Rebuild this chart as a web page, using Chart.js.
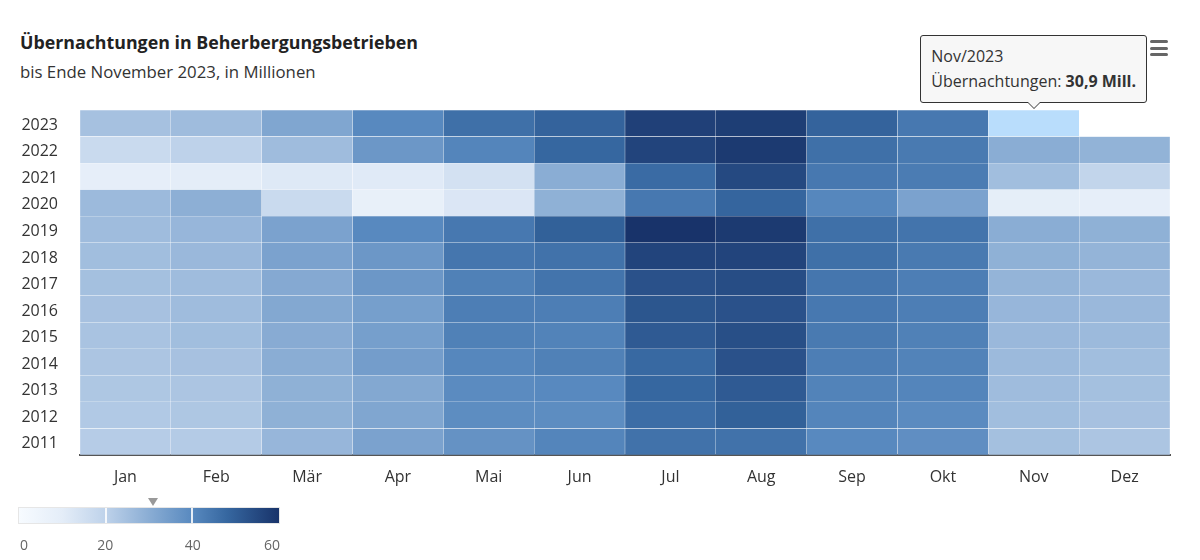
<!DOCTYPE html>
<html lang="de">
<head>
<meta charset="utf-8">
<title>Übernachtungen in Beherbergungsbetrieben</title>
<script src="https://cdn.jsdelivr.net/npm/chart.js@4.4.1/dist/chart.umd.min.js"></script>
<style>
  html, body { margin: 0; padding: 0; background: #fff; }
  body { width: 1200px; height: 560px; position: relative; overflow: hidden; font-family: 'Open Sans', sans-serif; color: #333; }
  #titel { position: absolute; left: 20px; top: 29px; font-size: 17.8px; font-weight: 700; color: #222; line-height: 26px; }
  #untertitel { position: absolute; left: 20px; top: 61px; font-size: 16.8px; color: #333; line-height: 22px; }
  #wrap { position: absolute; left: 0; top: 0; width: 1200px; height: 560px; }
  #menu { position: absolute; left: 1150px; top: 40px; width: 18px; }
  #menu span { display: block; height: 3px; background: #666; border-radius: 2px; margin-bottom: 3.5px; }
  .tip { position: absolute; background: #f7f7f7; border: 1px solid #333; border-radius: 3px; padding: 8px 10px; font-size: 16px; line-height: 25px; white-space: nowrap; pointer-events: none; color: #333; }
  .tip:before, .tip:after { content: ''; position: absolute; left: 50%; top: 100%; border: solid transparent; width: 0; height: 0; }
  .tip:before { border-width: 7px; margin-left: -7px; border-top-color: #333; }
  .tip:after { border-width: 6px; margin-left: -6px; border-top-color: #f7f7f7; }
  #balken { position: absolute; left: 18px; top: 507px; width: 262px; height: 17px; box-sizing: border-box; border: 1px solid #e6e6e6; }
  .strich { position: absolute; top: 0; bottom: 0; width: 2px; margin-left: -1px; background: rgba(255,255,255,0.85); }
  #marker { position: absolute; top: 498px; width: 0; height: 0; border-left: 5px solid transparent; border-right: 5px solid transparent; border-top: 8px solid #999; margin-left: -5px; }
  .lbl { position: absolute; top: 535px; font-size: 14px; color: #666; line-height: 20px; }
</style>
</head>
<body>
<div id="titel">Übernachtungen in Beherbergungsbetrieben</div>
<div id="untertitel">bis Ende November 2023, in Millionen</div>
<div id="wrap"><canvas id="heatmap" width="1200" height="560"></canvas></div>
<div id="menu"><span></span><span></span><span></span></div>
<div id="balken"></div>
<div id="marker"></div>
<div id="legende"></div>

<script>
// Monate und Jahre
const monate = ['Jan', 'Feb', 'Mär', 'Apr', 'Mai', 'Jun', 'Jul', 'Aug', 'Sep', 'Okt', 'Nov', 'Dez'];
const jahre = [2011, 2012, 2013, 2014, 2015, 2016, 2017, 2018, 2019, 2020, 2021, 2022, 2023];

// Übernachtungen in Millionen, Jan..Dez
const w2011 = [21.5, 22.0, 27.5, 33.0, 37.5, 41.0, 45.5, 45.5, 40.0, 38.5, 25.0, 23.5];
const w2012 = [22.5, 23.0, 29.0, 32.0, 39.0, 39.0, 46.5, 49.5, 41.0, 39.5, 25.5, 24.5];
const w2013 = [23.0, 23.5, 29.0, 31.5, 39.5, 40.0, 48.0, 51.0, 41.5, 41.0, 26.0, 25.0];
const w2014 = [23.5, 24.5, 30.0, 34.5, 40.5, 42.0, 47.5, 53.0, 42.5, 41.5, 26.5, 25.5];
const w2015 = [24.0, 25.5, 30.5, 34.0, 42.0, 41.5, 51.0, 53.5, 43.5, 42.0, 27.0, 26.5];
const w2016 = [24.5, 26.0, 31.5, 34.0, 42.5, 42.5, 52.0, 53.0, 44.0, 42.5, 27.5, 27.0];
const w2017 = [25.0, 26.0, 31.0, 36.0, 42.0, 45.0, 53.0, 54.0, 44.5, 42.5, 28.0, 27.0];
const w2018 = [25.5, 27.0, 33.0, 36.0, 44.5, 45.5, 56.0, 56.0, 46.0, 43.5, 29.0, 28.0];
const w2019 = [26.0, 27.5, 33.0, 40.0, 44.0, 49.5, 60.0, 58.5, 46.0, 45.0, 30.0, 29.0];
const w2020 = [26.5, 29.5, 17.0, 8.0, 12.5, 29.0, 44.0, 48.5, 40.5, 33.0, 9.5, 9.0];
const w2021 = [9.0, 10.0, 11.5, 11.0, 14.5, 30.0, 47.0, 55.0, 44.0, 43.0, 25.5, 19.0];
const w2022 = [17.0, 20.0, 26.0, 36.0, 41.0, 48.0, 56.0, 58.5, 46.0, 43.5, 30.0, 28.5];
const w2023 = [24.6, 26.0, 32.0, 40.0, 46.0, 49.0, 57.0, 57.5, 49.0, 44.0, 30.9, null];

const werteNachJahr = [w2011, w2012, w2013, w2014, w2015, w2016, w2017, w2018, w2019, w2020, w2021, w2022, w2023];
const legendenTicks = [0, 20, 40, 60];

// hervorgehobene Zelle (wie im Original mit Tooltip)
const markiertJahr = 2023;
const markiertMonat = 'Nov';

// Farbskala (Wert -> Farbe)
const farbStufen = [
  [0, '#f7fbff'], [10, '#e4edf8'], [20, '#bed2ea'], [30, '#8aadd4'],
  [40, '#5889bf'], [48, '#3667a0'], [60, '#18336a']
];
const skalaMax = 60;
const hoverFarbe = '#b9ddfc';

function hexZuRgb(h) {
  return [parseInt(h.slice(1, 3), 16), parseInt(h.slice(3, 5), 16), parseInt(h.slice(5, 7), 16)];
}

function farbe(v) {
  if (v == null) return 'rgba(0,0,0,0)';
  for (let i = 1; i < farbStufen.length; i++) {
    const [v1, f1] = farbStufen[i];
    if (v <= v1) {
      const [v0, f0] = farbStufen[i - 1];
      const t = (v - v0) / (v1 - v0);
      const a = hexZuRgb(f0), b = hexZuRgb(f1);
      const c = a.map((x, k) => Math.round(x + (b[k] - x) * t));
      return `rgb(${c[0]},${c[1]},${c[2]})`;
    }
  }
  return farbStufen[farbStufen.length - 1][1];
}

// HTML-Tooltip, damit der Wert fett dargestellt werden kann
function zeigeTooltip(context) {
  const { chart, tooltip } = context;
  let tip = document.getElementById('tip');
  if (!tip) {
    tip = document.createElement('div');
    tip.id = 'tip';
    tip.className = 'tip';
    document.getElementById('wrap').appendChild(tip);
  }
  if (!tooltip.dataPoints || tooltip.dataPoints.length === 0) {
    tip.style.display = 'none';
    return;
  }
  const p = tooltip.dataPoints[0];
  const wert = werteNachJahr[p.datasetIndex][p.dataIndex];
  const text = wert.toLocaleString('de-DE', { minimumFractionDigits: 1, maximumFractionDigits: 1 });
  tip.innerHTML = `${monate[p.dataIndex]}/${jahre[p.datasetIndex]}<br>Übernachtungen: <b>${text} Mill.</b>`;
  tip.style.display = 'block';
  const el = p.element;
  tip.style.left = (chart.canvas.offsetLeft + el.x - tip.offsetWidth / 2) + 'px';
  tip.style.top = (chart.canvas.offsetTop + el.y - tip.offsetHeight - 7) + 'px';
}

const datasets = jahre.map((jahr, i) => ({
  label: String(jahr),
  data: werteNachJahr[i].map((v) => (v == null ? null : [i - 0.5, i + 0.5])),
  backgroundColor: werteNachJahr[i].map((v, m) =>
    (jahr === markiertJahr && monate[m] === markiertMonat) ? hoverFarbe : farbe(v)),
  hoverBackgroundColor: hoverFarbe,
  borderColor: 'rgba(255,255,255,0.1)',
  hoverBorderColor: 'rgba(255,255,255,0.1)',
  borderWidth: 0.5,
  borderSkipped: false,
  grouped: false,
  barPercentage: 1,
  categoryPercentage: 1
}));

const ctx = document.getElementById('heatmap').getContext('2d');
Chart.defaults.font.family = "'Open Sans', sans-serif";

const chart = new Chart(ctx, {
  type: 'bar',
  data: { labels: monate, datasets: datasets },
  options: {
    responsive: false,
    animation: false,
    events: [],
    layout: { padding: { left: 20, right: 30, top: 110, bottom: 65 } },
    plugins: {
      legend: { display: false },
      title: { display: false },
      tooltip: { enabled: false, external: zeigeTooltip }
    },
    scales: {
      x: {
        type: 'category',
        offset: true,
        grid: { display: false, drawTicks: false },
        border: { display: true, color: '#555', width: 2 },
        ticks: { color: '#333', font: { size: 16 }, padding: 13 },
        afterFit: (s) => { s.height = 40; }
      },
      y: {
        type: 'linear',
        min: -0.5,
        max: 12.5,
        grid: { display: false, drawTicks: false },
        border: { display: false },
        afterBuildTicks: (s) => { s.ticks = jahre.map((j, i) => ({ value: i })); },
        ticks: { color: '#333', font: { size: 16 }, padding: 22, labelOffset: 2, callback: (v) => jahre[v] },
        afterFit: (s) => { s.width = 60; }
      }
    }
  }
});

// Nov/2023 mit Tooltip zeigen
const aktiv = [{ datasetIndex: jahre.indexOf(markiertJahr), index: monate.indexOf(markiertMonat) }];
chart.tooltip.setActiveElements(aktiv, { x: 0, y: 0 });

// Farblegende
const balken = document.getElementById('balken');
const bLeft = 18, bWidth = 262;
balken.style.background = 'linear-gradient(to right, ' +
  farbStufen.map(([v, f]) => `${f} ${(v / skalaMax * 100).toFixed(2)}%`).join(', ') + ')';
legendenTicks.slice(1, -1).forEach((t) => {
  const s = document.createElement('div');
  s.className = 'strich';
  s.style.left = (t / skalaMax * 100) + '%';
  balken.appendChild(s);
});
const legende = document.getElementById('legende');
legendenTicks.forEach((t, i) => {
  const l = document.createElement('div');
  l.className = 'lbl';
  l.textContent = t;
  legende.appendChild(l);
  const x = bLeft + t / skalaMax * bWidth;
  let left = x - l.offsetWidth / 2;
  if (i === 0) left = bLeft + 2;
  if (i === legendenTicks.length - 1) left = bLeft + bWidth - l.offsetWidth;
  l.style.left = left + 'px';
});
const markerWert = w2023[monate.indexOf(markiertMonat)];
document.getElementById('marker').style.left = (bLeft + markerWert / skalaMax * bWidth) + 'px';
</script>
</body>
</html>
